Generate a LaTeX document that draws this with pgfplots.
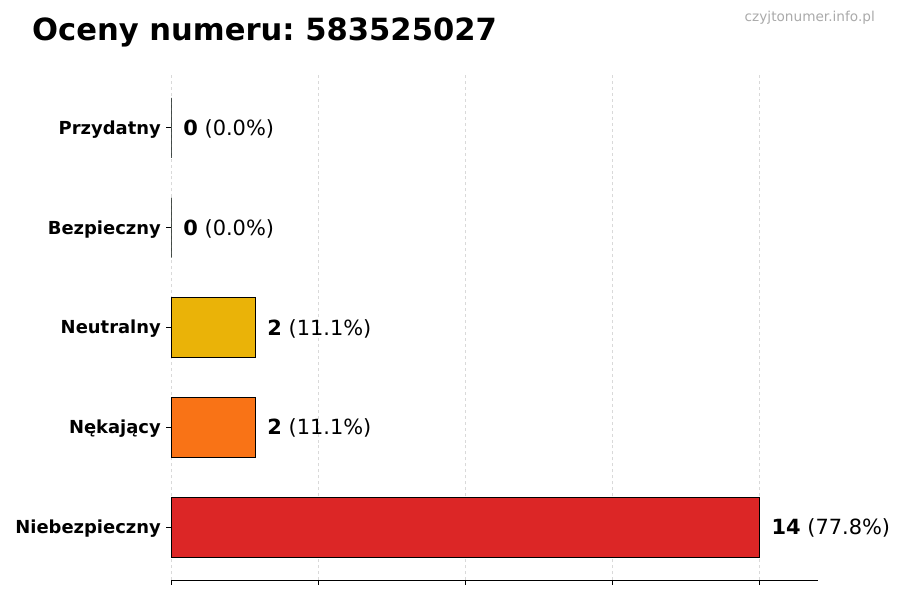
\documentclass[border=0pt]{standalone}
\usepackage{pgfplots}
\pgfplotsset{compat=1.18}
\usepackage{fontspec}
\setmainfont{DejaVu Sans}
\frenchspacing
\definecolor{cred}{HTML}{DC2626}
\definecolor{corange}{HTML}{F97316}
\definecolor{cyellow}{HTML}{EAB308}
\definecolor{cgreen}{HTML}{22C55E}
\definecolor{cteal}{HTML}{10B981}
\definecolor{wm}{HTML}{AAAAAA}
\begin{document}
\begin{tikzpicture}[x=1bp,y=1bp]
\path[use as bounding box] (0,0) rectangle (900,600);
\node[anchor=base west, inner sep=0pt, font=\fontsize{30.7}{36}\selectfont\bfseries] at (32,559) {Oceny numeru:\ 583525027};
\node[anchor=base east, inner sep=0pt, text=wm, font=\fontsize{13.7}{16}\selectfont] at (875,578) {czyjtonumer.info.pl};
\begin{axis}[
  at={(171bp,20bp)}, anchor=south west,
  scale only axis, width=647bp, height=505bp,
  xbar, bar width=0.6, bar shift=0pt,
  xmin=0, xmax=15.4, ymin=-0.53, ymax=4.53,
  axis lines*=left,
  y axis line style={draw=none},
  x axis line style={line width=0.9bp},
  xtick={0,3.5,7,10.5,14}, xticklabels={},
  ytick={0,1,2,3,4},
  yticklabels={Niebezpieczny,Nękający,Neutralny,Bezpieczny,Przydatny},
  yticklabel style={font=\fontsize{18}{20}\selectfont\bfseries, inner sep=0pt, xshift=-5bp, yshift=-1.5bp},
  tick align=outside, major tick length=5bp,
  tick style={line width=0.8bp, black},
  xmajorgrids, grid style={dashed, gray!30, line width=0.6bp},
  clip=false,
  nodes near coords,
  point meta=explicit symbolic,
  every node near coord/.append style={anchor=west, inner sep=0pt, xshift=12bp, yshift=-1bp, font=\fontsize{21}{24}\selectfont, text=black},
  /pgf/number format/assume math mode=true,
]
\addplot[fill=cred, draw=black, line width=0.8bp] coordinates {(14,0) [{\textbf{14} (77.8\%)}]};
\addplot[fill=corange, draw=black, line width=0.8bp] coordinates {(2,1) [{\textbf{2} (11.1\%)}]};
\addplot[fill=cyellow, draw=black, line width=0.8bp] coordinates {(2,2) [{\textbf{2} (11.1\%)}]};
\addplot[fill=cgreen, draw=black, line width=0.8bp] coordinates {(0,3) [{\textbf{0} (0.0\%)}]};
\addplot[fill=cteal, draw=black, line width=0.8bp] coordinates {(0,4) [{\textbf{0} (0.0\%)}]};
\end{axis}
\end{tikzpicture}
\end{document}
